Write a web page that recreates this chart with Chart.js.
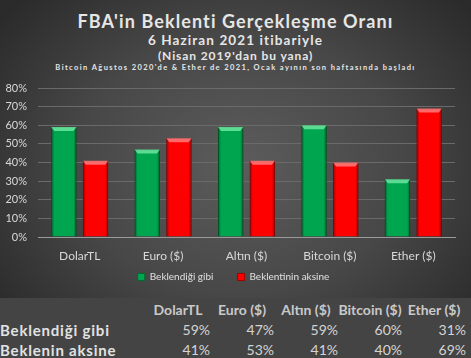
<!DOCTYPE html>
<html>
<head>
<meta charset="utf-8">
<script src="https://cdn.jsdelivr.net/npm/chart.js@4/dist/chart.umd.min.js"></script>
<style>
  html, body { margin: 0; padding: 0; background: #434343; }
  #wrap { position: relative; width: 471px; height: 358px; overflow: hidden; font-family: Lato, "Open Sans", sans-serif; }
  #top { position: absolute; left: 0; top: 0; width: 471px; height: 298px;
         background: radial-gradient(ellipse 300px 240px at 240px 165px, #5c5c5c 0%, #474747 55%, #2b2b2b 100%); }
  #titles { position: absolute; left: 0; top: 0; width: 471px; text-align: center; color: #e6e6e6; font-weight: bold; }
  .t1 { position: absolute; left: 0; width: 471px; top: 10px; font-size: 18px; letter-spacing: 1.1px; }
  .t2 { position: absolute; left: 0; width: 471px; top: 32px; font-size: 13.5px; letter-spacing: 1.1px; }
  .t3 { position: absolute; left: 0; width: 471px; top: 48px; font-size: 12px; letter-spacing: 0.9px; }
  .t4 { position: absolute; left: 0; width: 471px; top: 63px; font-size: 7.5px; letter-spacing: 1.4px; }
  canvas { position: absolute; left: 0; top: 0; }
  #tbl { position: absolute; left: 0; top: 300px; width: 471px; height: 58px; }
  #tblbg { position: absolute; left: 0; top: 298px; width: 471px; height: 60px; background: #444444; }
  table { border-collapse: collapse; font-family: Lato, "Open Sans", sans-serif; font-size: 14px; color: #d4d4d4; }
  td, th { padding: 0; height: 20px; line-height: 20px; white-space: nowrap; }
  th { font-weight: bold; color: #c9c9c9; text-align: center; font-size: 14px; }
  td.lab { font-weight: bold; color: #e2e2e2; text-align: left; width: 146px; font-size: 15px; letter-spacing: 0.8px; }
  td.v { text-align: right; width: 64px; }
</style>
</head>
<body>
<div id="wrap">
  <div id="top"></div>
  <div id="tblbg"></div>
  <div id="titles">
    <div class="t1">FBA'in Beklenti Gerçekleşme Oranı</div>
    <div class="t2">6 Haziran 2021 itibariyle</div>
    <div class="t3">(Nisan 2019'dan bu yana)</div>
    <div class="t4">Bitcoin Ağustos 2020'de &amp; Ether de 2021, Ocak ayının son haftasında  başladı</div>
  </div>
  <canvas id="c" width="471" height="298"></canvas>
  <div id="tbl"><table id="t"></table></div>
</div>
<script>
const categories = ["DolarTL", "Euro ($)", "Altın ($)", "Bitcoin ($)", "Ether ($)"];
const seriesNames = ["Beklendiği gibi", "Beklentinin aksine"];
const tableRowNames = ["Beklendiği gibi", "Beklenin aksine"];
const expected = [59, 47, 59, 60, 31];
const contrary = [41, 53, 41, 40, 69];
const yTicks = [0, 10, 20, 30, 40, 50, 60, 70, 80];

// build table
(function () {
  const t = document.getElementById('t');
  let h = '<tr><td class="lab"></td>' + categories.map(c => '<th style="width:64px">' + c + '</th>').join('') + '</tr>';
  h += '<tr><td class="lab">' + tableRowNames[0] + '</td>' + expected.map(v => '<td class="v">' + v + '%</td>').join('') + '</tr>';
  h += '<tr><td class="lab">' + tableRowNames[1] + '</td>' + contrary.map(v => '<td class="v">' + v + '%</td>').join('') + '</tr>';
  t.innerHTML = h;
})();

const bevel = {
  id: 'bevel',
  afterDatasetsDraw(chart) {
    const ctx = chart.ctx;
    chart.data.datasets.forEach((ds, di) => {
      const meta = chart.getDatasetMeta(di);
      const light = ds.bevelLight, dark = ds.bevelDark;
      meta.data.forEach(bar => {
        const p = bar.getProps(['x', 'y', 'base', 'width'], true);
        const l = p.x - p.width / 2, r = p.x + p.width / 2, top = p.y, bot = p.base;
        ctx.save();
        const g = ctx.createLinearGradient(l, 0, r, 0);
        g.addColorStop(0, dark);
        g.addColorStop(0.12, 'rgba(0,0,0,0)');
        g.addColorStop(0.88, 'rgba(0,0,0,0)');
        g.addColorStop(1, dark);
        ctx.fillStyle = g;
        ctx.fillRect(l, top, r - l, bot - top);
        ctx.beginPath();
        ctx.moveTo(l, top);
        ctx.lineTo(r, top);
        ctx.lineTo(r - 3, top + 4);
        ctx.lineTo(l + 3, top + 4);
        ctx.closePath();
        ctx.fillStyle = light;
        ctx.fill();
        ctx.restore();
      });
    });
  }
};

// keep wide legend item spacing but a compact legend box
const legendTune = {
  id: 'legendTune',
  beforeLayout(chart) {
    const lg = chart.legend;
    if (!lg || lg._tuned) return;
    lg._tuned = true;
    const fit = lg.fit.bind(lg);
    lg.fit = function () { fit(); this.height -= 9; };
  },
  afterLayout(chart) {
    const lg = chart.legend;
    if (!lg) return;
    lg.top -= 15;
    lg.bottom -= 15;
    lg.left += 6;
    lg.right += 6;
  }
};

new Chart(document.getElementById('c'), {
  type: 'bar',
  data: {
    labels: categories,
    datasets: [
      { label: seriesNames[0], data: expected, backgroundColor: '#00a54f', borderColor: '#006b30', borderWidth: 1,
        bevelLight: 'rgba(120,240,170,0.75)', bevelDark: 'rgba(0,60,20,0.5)' },
      { label: seriesNames[1], data: contrary, backgroundColor: '#ff0000', borderColor: '#a00000', borderWidth: 1,
        bevelLight: 'rgba(255,140,140,0.75)', bevelDark: 'rgba(110,0,0,0.5)' }
    ]
  },
  options: {
    responsive: false,
    animation: false,
    layout: { padding: { top: 88, left: 0, right: 16, bottom: 0 } },
    datasets: { bar: { categoryPercentage: 0.76, barPercentage: 0.8 } },
    scales: {
      x: {
        afterFit(axis) { axis.height = 26; },
        grid: { display: false, drawTicks: false },
        border: { color: '#9a9a9a', width: 1 },
        ticks: { color: '#d8d8d8', font: { family: 'Lato', size: 12 }, padding: 12 }
      },
      y: {
        min: 0, max: 80,
        afterBuildTicks(axis) { axis.ticks = yTicks.map(v => ({ value: v })); },
        afterFit(axis) { axis.width = 38; },
        grid: { color: '#6a6a6a', lineWidth: 1, drawTicks: false },
        border: { display: false },
        ticks: { color: '#d8d8d8', font: { family: 'Lato', size: 11 }, padding: 11, callback: v => v + '%' }
      }
    },
    plugins: {
      legend: {
        position: 'bottom',
        labels: { color: '#e0e0e0', font: { family: 'Lato', size: 10 }, boxWidth: 7, boxHeight: 7, padding: 24 }
      },
      tooltip: { enabled: false }
    }
  },
  plugins: [bevel, legendTune]
});
</script>
</body>
</html>
